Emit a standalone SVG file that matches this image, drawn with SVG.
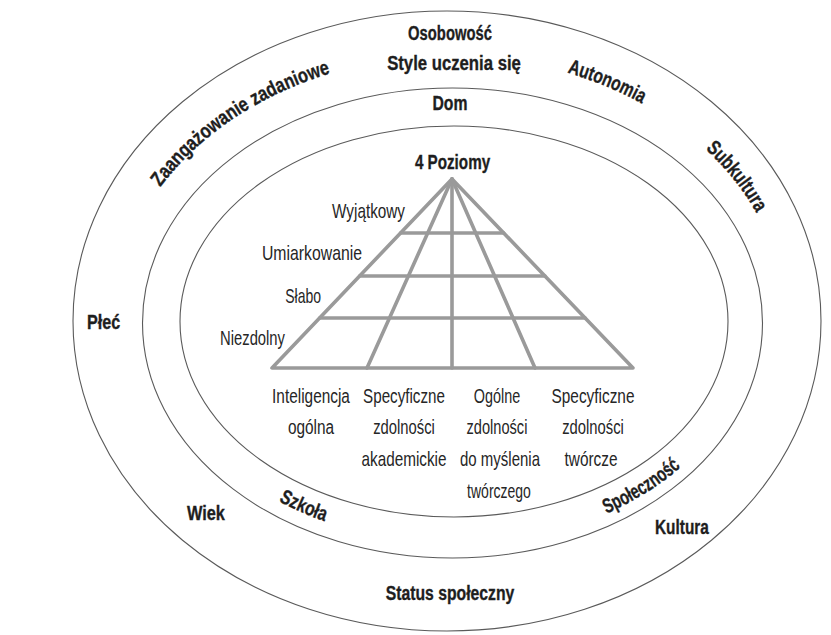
<svg xmlns="http://www.w3.org/2000/svg" width="831" height="635" viewBox="0 0 831 635">
<style>
.ring{fill:none;stroke:#5a5a5a;stroke-width:1.1}
.pyr{fill:none;stroke:#9a9a9a;stroke-width:3.6;stroke-linejoin:round;stroke-linecap:round}
.b{font-family:"Liberation Sans",Arial,sans-serif;font-weight:bold;font-size:20.5px;fill:#1e1e1e;stroke:#1e1e1e;stroke-width:0.35}
.r{font-family:"Liberation Sans",Arial,sans-serif;font-size:20px;fill:#262626}
.m{text-anchor:middle}
.e{text-anchor:end}
</style>
<defs>
<path id="pZad" d="M134.3,231 A336,266 0 0 1 380.1,61.8"/>
<path id="pAut" d="M508.3,60 A336,266 0 0 1 691.7,137.2"/>
<path id="pSub" d="M674.8,124.3 A336,266 0 0 1 773,248.7"/>
<path id="pSzk" d="M242.3,478.3 A298,221 0 0 0 365.9,533.3"/>
<path id="pSpo" d="M550.7,532.9 A300,223 0 0 0 720.3,423.2"/>
</defs>
<rect width="831" height="635" fill="#ffffff"/>

<g id="ring-outer">
<ellipse class="ring" cx="447" cy="321" rx="374" ry="310"/>
<text class="b m" transform="translate(450,40) scale(0.723,1)">Osobowość</text>
<text class="b m" transform="translate(454,70) scale(0.816,1)">Style uczenia się</text>
<text class="b"><textPath href="#pZad" startOffset="50%" text-anchor="middle" textLength="208" lengthAdjust="spacingAndGlyphs">Zaangażowanie zadaniowe</textPath></text>
<text class="b"><textPath href="#pAut" startOffset="50%" text-anchor="middle" textLength="81" lengthAdjust="spacingAndGlyphs">Autonomia</textPath></text>
<text class="b"><textPath href="#pSub" startOffset="50%" text-anchor="middle" textLength="82" lengthAdjust="spacingAndGlyphs">Subkultura</textPath></text>
<text class="b" transform="translate(87,329) scale(0.788,1)">Płeć</text>
<text class="b" transform="translate(187,520) scale(0.797,1)">Wiek</text>
<text class="b" transform="translate(655,534) scale(0.751,1)">Kultura</text>
<text class="b m" transform="translate(450,600) scale(0.769,1)">Status społeczny</text>
</g>

<g id="ring-middle">
<ellipse class="ring" cx="452.5" cy="323" rx="310" ry="235"/>
<text class="b m" transform="translate(450,110) scale(0.769,1)">Dom</text>
<text class="b"><textPath href="#pSzk" startOffset="50%" text-anchor="middle" textLength="50" lengthAdjust="spacingAndGlyphs">Szkoła</textPath></text>
<text class="b"><textPath href="#pSpo" startOffset="50%" text-anchor="middle" textLength="88" lengthAdjust="spacingAndGlyphs">Społeczność</textPath></text>
</g>

<g id="ring-inner">
<ellipse class="ring" cx="454" cy="321.5" rx="274" ry="195.5"/>
</g>

<g id="pyramid">
<text class="b m" transform="translate(452.5,169) scale(0.742,1)">4 Poziomy</text>
<polygon class="pyr" points="452,179 272,368 633,368"/>
</g>

<g id="connectors">
<line class="pyr" x1="452" y1="179" x2="367" y2="368"/>
<line class="pyr" x1="452" y1="179" x2="452" y2="368"/>
<line class="pyr" x1="452" y1="179" x2="535" y2="368"/>
<line class="pyr" x1="400.6" y1="233" x2="503.7" y2="233"/>
<line class="pyr" x1="359.6" y1="276" x2="544.9" y2="276"/>
<line class="pyr" x1="319.6" y1="318" x2="585.1" y2="318"/>
</g>

<g id="levels">
<text class="r e" transform="translate(405,218) scale(0.765,1)">Wyjątkowy</text>
<text class="r e" transform="translate(362,260) scale(0.79,1)">Umiarkowanie</text>
<text class="r e" transform="translate(321,303) scale(0.7,1)">Słabo</text>
<text class="r e" transform="translate(285,345) scale(0.74,1)">Niezdolny</text>
</g>

<g id="cat-1">
<text class="r m" transform="translate(311,403) scale(0.77,1)">Inteligencja</text>
<text class="r m" transform="translate(311,434) scale(0.77,1)">ogólna</text>
</g>
<g id="cat-2">
<text class="r m" transform="translate(404,403) scale(0.76,1)">Specyficzne</text>
<text class="r m" transform="translate(404,434) scale(0.74,1)">zdolności</text>
<text class="r m" transform="translate(404,466) scale(0.765,1)">akademickie</text>
</g>
<g id="cat-3">
<text class="r m" transform="translate(497,403) scale(0.72,1)">Ogólne</text>
<text class="r m" transform="translate(497,434) scale(0.73,1)">zdolności</text>
<text class="r m" transform="translate(500,466) scale(0.75,1)">do myślenia</text>
<text class="r m" transform="translate(499,498) scale(0.7,1)">twórczego</text>
</g>
<g id="cat-4">
<text class="r m" transform="translate(593,403) scale(0.77,1)">Specyficzne</text>
<text class="r m" transform="translate(593,434) scale(0.74,1)">zdolności</text>
<text class="r m" transform="translate(591,466) scale(0.77,1)">twórcze</text>
</g>
</svg>
